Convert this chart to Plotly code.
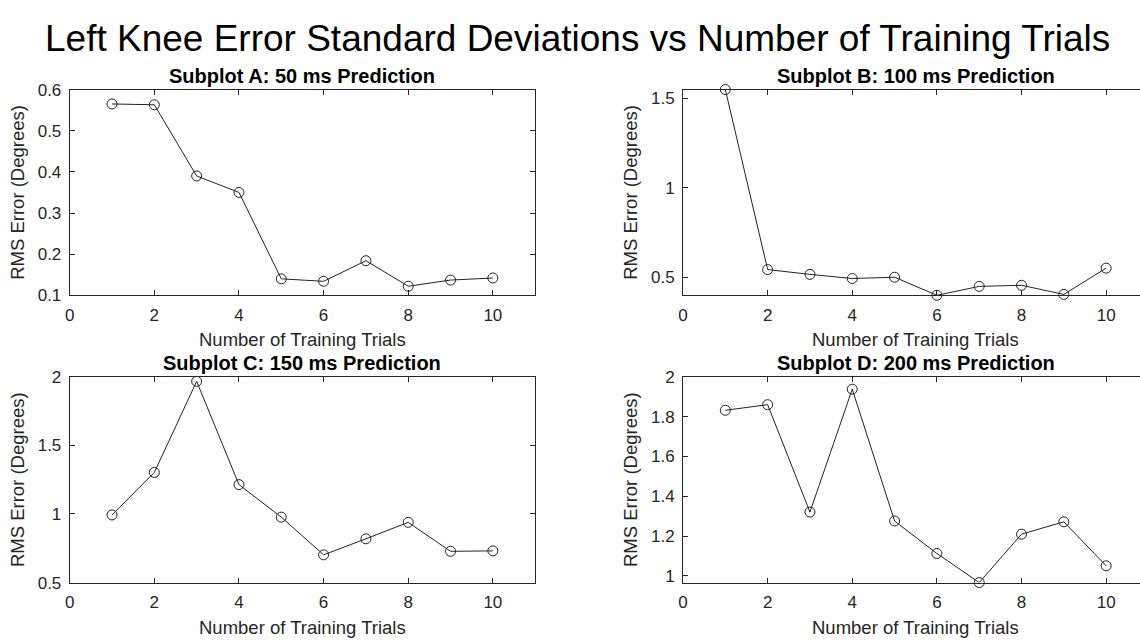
import plotly.graph_objects as go

# Number of training trials (shared x values)
trials = [1, 2, 3, 4, 5, 6, 7, 8, 9, 10]

# RMS error standard deviations (degrees) for each prediction horizon
err_50ms = [0.565, 0.563, 0.390, 0.350, 0.140, 0.134, 0.184, 0.122, 0.137, 0.142]
err_100ms = [1.55, 0.543, 0.516, 0.493, 0.500, 0.399, 0.449, 0.455, 0.404, 0.551]
err_150ms = [0.993, 1.303, 1.967, 1.214, 0.977, 0.702, 0.819, 0.939, 0.728, 0.731]
err_200ms = [1.832, 1.860, 1.321, 1.938, 1.276, 1.113, 0.967, 1.210, 1.272, 1.051]

panel_titles = [
    "Subplot A: 50 ms Prediction",
    "Subplot B: 100 ms Prediction",
    "Subplot C: 150 ms Prediction",
    "Subplot D: 200 ms Prediction",
]
main_title = "Left Knee Error Standard Deviations vs Number of Training Trials"
x_label = "Number of Training Trials"
y_label = "RMS Error (Degrees)"

W, H = 1140, 644
FONT = "Arial, 'Liberation Sans', Helvetica, sans-serif"
AX = "#262626"

# pixel boxes of the four axes: (left, right, top, bottom)
boxes = [
    (65, 532, 83, 295),
    (681, 1140, 83, 295),
    (65, 532, 379, 591),
    (681, 1140, 379, 591),
]
px_per_unit = 42.5  # horizontal scale shared by all panels

series = [err_50ms, err_100ms, err_150ms, err_200ms]
y_ranges = [
    [0.1, 0.6],
    [min(err_100ms), max(err_100ms)],
    [0.5, 2.0],
    [min(err_200ms), 2.0],
]
y_dticks = [0.1, 0.5, 0.5, 0.2]
clipped_right = [False, True, False, True]

fig = go.Figure()
annotations = []

for i, (vals, box) in enumerate(zip(series, boxes)):
    left, right, top, bottom = box
    n = "" if i == 0 else str(i + 1)
    xa, ya = "x" + n, "y" + n
    fig.add_trace(go.Scatter(
        x=trials, y=vals, xaxis=xa, yaxis=ya, mode="lines+markers",
        line=dict(color="#222222", width=1),
        marker=dict(symbol="circle-open", size=10, color="#222222", line=dict(width=1)),
        showlegend=False, hoverinfo="x+y", cliponaxis=False,
    ))
    xdom = [left / W, right / W]
    ydom = [1 - bottom / H, 1 - top / H]
    x_max = (right - left) / px_per_unit
    fig.layout["xaxis" + n] = dict(
        domain=xdom, range=[0, x_max], anchor=ya,
        tickmode="linear", tick0=0, dtick=2,
        ticks="inside", ticklen=5, tickcolor=AX, tickwidth=1,
        showline=True, linecolor=AX, linewidth=1, mirror="ticks",
        showgrid=False, zeroline=False, ticklabelstandoff=4,
        tickfont=dict(family=FONT, size=17, color=AX),
    )
    fig.layout["yaxis" + n] = dict(
        domain=ydom, range=y_ranges[i], anchor=xa,
        tickmode="linear", tick0=0, dtick=y_dticks[i],
        ticks="inside", ticklen=5, tickcolor=AX, tickwidth=1,
        showline=True, linecolor=AX, linewidth=1,
        mirror=False if clipped_right[i] else "ticks",
        showgrid=False, zeroline=False, ticklabelstandoff=4,
        tickfont=dict(family=FONT, size=17, color=AX),
        title=dict(text=y_label, font=dict(family=FONT, size=18.5, color=AX), standoff=8),
    )
    full_right = left + 11 * px_per_unit
    cx = (left + full_right) / 2 / W
    # panel heading centred over the full axes box
    annotations.append(dict(
        text="<b>" + panel_titles[i] + "</b>", xref="paper", yref="paper",
        x=cx, y=1 - (top - 1) / H,
        xanchor="center", yanchor="bottom", showarrow=False,
        font=dict(family=FONT, size=20, color="#000000"),
    ))
    # x-axis label below the tick labels
    annotations.append(dict(
        text=x_label, xref="paper", yref="paper",
        x=cx, y=1 - (bottom + 33) / H,
        xanchor="center", yanchor="top", showarrow=False,
        font=dict(family=FONT, size=18.5, color=AX),
    ))

annotations.append(dict(
    text=main_title, xref="paper", yref="paper",
    x=575 / W, y=1 - 30 / H, xanchor="center", yanchor="middle", showarrow=False,
    font=dict(family=FONT, size=37, color="#000000"),
))

fig.update_layout(
    width=W, height=H, margin=dict(l=0, r=0, t=0, b=0),
    paper_bgcolor="white", plot_bgcolor="white",
    annotations=annotations,
)

fig.write_html("out.html")
